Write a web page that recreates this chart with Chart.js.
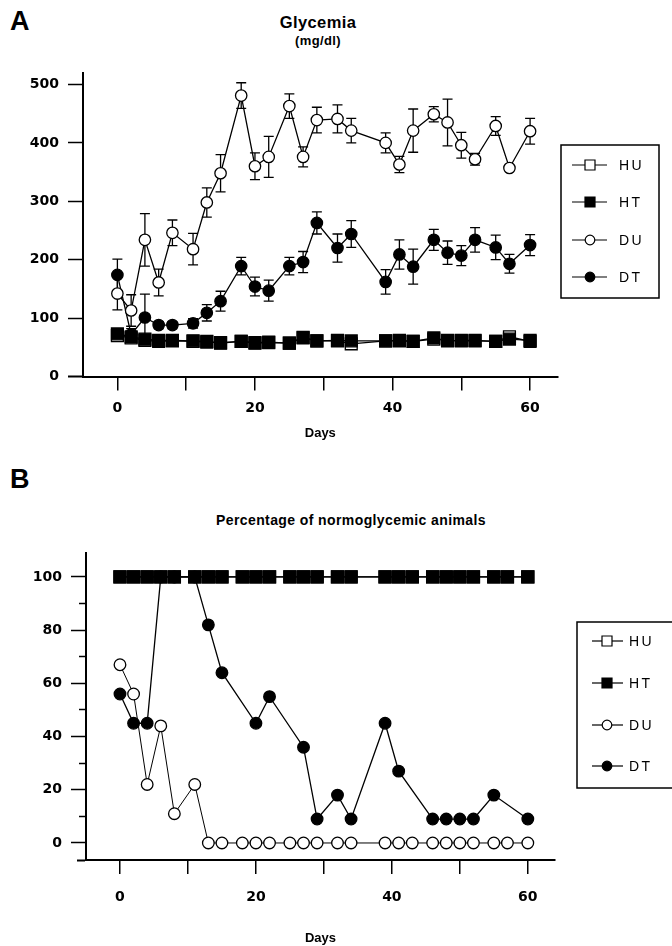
<!DOCTYPE html>
<html>
<head>
<meta charset="utf-8">
<title>Glycemia</title>
<script src="https://cdn.jsdelivr.net/npm/chart.js@4.4.0/dist/chart.umd.min.js"></script>
<style>
  body { margin: 0; background: #fff; width: 672px; height: 946px; position: relative; overflow: hidden;
         font-family: "Liberation Sans", Arial, sans-serif; }
  .lbl { position: absolute; font-weight: bold; color: #000; white-space: nowrap; }
  .ctr { text-align: center; letter-spacing: 0.4px; }
  canvas { position: absolute; left: 0; }
  #chartA { top: 0; }
  #chartB { top: 460px; }
</style>
</head>
<body>
<div class="lbl" style="left:10px; top:6px; font-size:27px;">A</div>
<div class="lbl ctr" style="left:218px; width:200px; top:13px; font-size:16.5px;">Glycemia</div>
<div class="lbl ctr" style="left:218px; width:200px; top:33px; font-size:13px;">(mg/dl)</div>
<div class="lbl" style="left:10px; top:464px; font-size:27px;">B</div>
<div class="lbl ctr" style="left:151px; width:400px; top:512px; font-size:14px;">Percentage of normoglycemic animals</div>

<canvas id="chartA" width="672" height="460"></canvas>
<canvas id="chartB" width="672" height="486"></canvas>

<script>
// sampling days (same for both panels)
const days = [0, 2, 4, 6, 8, 11, 13, 15, 18, 20, 22, 25, 27, 29, 32, 34, 39, 41, 43, 46, 48, 50, 52, 55, 57, 60];

// A: glycemia (mg/dl), mean and SEM
const huGly = [70, 66, 62, 60, 61, 60, 59, 58, 60, 58, 59, 57, 67, 61, 61, 56, 61, 61, 60, 64, 62, 61, 61, 60, 68, 60];
const htGly = [73, 68, 64, 62, 62, 61, 60, 57, 60, 57, 58, 57, 66, 61, 62, 61, 61, 62, 60, 66, 61, 62, 62, 60, 64, 62];
const duGly = [142, 113, 234, 161, 246, 218, 298, 348, 481, 360, 376, 463, 376, 439, 441, 421, 400, 363, 421, 449, 435, 396, 372, 429, 357, 420];
const duGlyErr = [28, 27, 45, 23, 22, 27, 25, 32, 22, 23, 35, 21, 17, 22, 24, 21, 17, 14, 37, 13, 40, 22, 10, 16, 5, 22];
const dtGly = [174, 72, 101, 88, 88, 91, 109, 129, 189, 154, 147, 189, 196, 263, 220, 244, 162, 209, 188, 234, 212, 207, 234, 221, 193, 225];
const dtGlyErr = [27, 10, 40, 6, 6, 8, 14, 17, 15, 16, 18, 15, 18, 19, 24, 23, 21, 25, 30, 18, 20, 17, 21, 21, 16, 18];

// B: percentage of normoglycemic animals (null = no point)
const huPct = [100, 100, 100, 100, 100, 100, 100, 100, 100, 100, 100, 100, 100, 100, 100, 100, 100, 100, 100, 100, 100, 100, 100, 100, 100, 100];
const htPct = [100, 100, 100, 100, 100, 100, 100, 100, 100, 100, 100, 100, 100, 100, 100, 100, 100, 100, 100, 100, 100, 100, 100, 100, 100, 100];
const duPct = [67, 56, 22, 44, 11, 22, 0, 0, 0, 0, 0, 0, 0, 0, 0, 0, 0, 0, 0, 0, 0, 0, 0, 0, 0, 0];
const dtPct = [56, 45, 45, 100, 100, 100, 82, 64, null, 45, 55, null, 36, 9, 18, 9, 45, 27, null, 9, 9, 9, 9, 18, null, 9];

// ticks
const xTicks = [0, 10, 20, 30, 40, 50, 60];
const xLabels = [0, 20, 40, 60];
const yTicksA = [0, 100, 200, 300, 400, 500];
const yTicksB = [0, 10, 20, 30, 40, 50, 60, 70, 80, 90, 100];
const yLabelsB = [0, 20, 40, 60, 80, 100];

const seriesNames = ['HU', 'HT', 'DU', 'DT'];

const tickFont = { family: 'DejaVu Sans', weight: 'bold', size: 14 };
const titleFont = { family: 'Liberation Sans', weight: 'bold', size: 13 };

function pts(vals) {
    return days.map((d, i) => ({ x: d, y: vals[i] }));
}

// vertical error bars with caps, drawn under the markers
const errorBars = {
    id: 'errorBars',
    beforeDatasetsDraw(chart) {
        const { ctx, scales: { x, y } } = chart;
        ctx.save();
        ctx.strokeStyle = '#000';
        ctx.lineWidth = 1.3;
        chart.data.datasets.forEach(ds => {
            if (!ds.errors) return;
            ds.data.forEach((p, i) => {
                const e = ds.errors[i];
                if (p.y == null || !e) return;
                const px = x.getPixelForValue(p.x);
                const top = y.getPixelForValue(p.y + e);
                const bot = y.getPixelForValue(p.y - e);
                ctx.beginPath();
                ctx.moveTo(px, top); ctx.lineTo(px, bot);
                ctx.moveTo(px - 5, top); ctx.lineTo(px + 5, top);
                ctx.moveTo(px - 5, bot); ctx.lineTo(px + 5, bot);
                ctx.stroke();
            });
        });
        ctx.restore();
    }
};

// framed legend at the right side
const boxLegend = {
    id: 'boxLegend',
    afterDraw(chart, args, o) {
        const ctx = chart.ctx;
        ctx.save();
        ctx.strokeStyle = '#000';
        ctx.lineWidth = 1.5;
        ctx.strokeRect(o.x, o.y, o.w, o.h);
        ctx.font = '14px "Liberation Sans"';
        ctx.textBaseline = 'middle';
        ctx.fillStyle = '#000';
        if ('letterSpacing' in ctx) ctx.letterSpacing = '2.5px';
        seriesNames.forEach((name, i) => {
            const ds = chart.data.datasets.find(d => d.label === name);
            const y = o.rows[i];
            ctx.lineWidth = 1.2;
            ctx.beginPath();
            ctx.moveTo(o.line0, y); ctx.lineTo(o.line1, y);
            ctx.stroke();
            ctx.beginPath();
            if (ds.pointStyle === 'rect') {
                ctx.rect(o.mx - 5, y - 5, 10, 10);
            } else {
                ctx.arc(o.mx, y, 4.8, 0, Math.PI * 2);
            }
            ctx.fillStyle = ds.pointBackgroundColor;
            ctx.fill();
            ctx.stroke();
            ctx.fillStyle = '#000';
            ctx.fillText(name, o.tx, y + 1);
        });
        ctx.restore();
    }
};

function makeDatasets(hu, ht, du, dt, errs, r) {
    const base = { borderColor: '#000', pointBorderColor: '#000', pointBorderWidth: 1.3, borderWidth: 1.3, spanGaps: true };
    return [
        Object.assign({}, base, { label: 'HU', data: pts(hu), pointStyle: 'rect', pointRadius: r.sq, pointBackgroundColor: '#fff', order: 3 }),
        Object.assign({}, base, { label: 'HT', data: pts(ht), pointStyle: 'rect', pointRadius: r.sq, pointBackgroundColor: '#000', order: 0 }),
        Object.assign({}, base, { label: 'DU', data: pts(du), pointStyle: 'circle', pointRadius: r.ci, pointBackgroundColor: '#fff', order: 1,
            borderWidth: r.duLine, errors: errs ? errs[0] : null }),
        Object.assign({}, base, { label: 'DT', data: pts(dt), pointStyle: 'circle', pointRadius: r.ci, pointBackgroundColor: '#000', order: 2,
            errors: errs ? errs[1] : null })
    ];
}

function xScale(height, labelPad, titlePad) {
    return {
        type: 'linear', min: -5, max: 64,
        afterBuildTicks: s => { s.ticks = xTicks.map(v => ({ value: v })); },
        afterFit: s => { s.height = height; },
        grid: { display: true, drawOnChartArea: false, drawTicks: true, tickLength: 14, color: '#000', lineWidth: 1.5 },
        border: { display: true, color: '#000', width: 2 },
        ticks: { color: '#000', font: tickFont, padding: labelPad, maxRotation: 0, autoSkip: false,
            callback: v => xLabels.includes(v) ? String(v) : '' },
        title: { display: true, text: 'Days', color: '#000', font: titleFont, padding: { top: 0, bottom: titlePad } }
    };
}

// Panel A
new Chart(document.getElementById('chartA'), {
    type: 'line',
    data: { datasets: makeDatasets(huGly, htGly, duGly, dtGly, [duGlyErr, dtGlyErr], { sq: 8.4, ci: 5.7, duLine: 1.3 }) },
    options: {
        responsive: false, animation: false, events: [],
        layout: { padding: { left: 0, right: 114.4, top: 72.8, bottom: 0 } },
        plugins: {
            legend: { display: false }, tooltip: { enabled: false },
            boxLegend: { x: 561, y: 145, w: 98, h: 153, rows: [165, 202, 240, 277], line0: 572, line1: 607, mx: 590, tx: 619 }
        },
        scales: {
            x: xScale(83.5, 9, 19),
            y: {
                min: 0, max: 520,
                afterBuildTicks: s => { s.ticks = yTicksA.map(v => ({ value: v })); },
                afterFit: s => { s.width = 83; },
                grid: { display: true, drawOnChartArea: false, drawTicks: true, tickLength: 15, color: '#000',
                    tickWidth: c => (c.tick && c.tick.value === 0) ? 2 : 1.5 },
                border: { display: true, color: '#000', width: 2 },
                ticks: { color: '#000', font: tickFont, padding: 9, callback: v => String(v) }
            }
        }
    },
    plugins: [errorBars, boxLegend]
});

// Panel B
new Chart(document.getElementById('chartB'), {
    type: 'line',
    data: { datasets: makeDatasets(huPct, htPct, duPct, dtPct, null, { sq: 8.5, ci: 5.8, duLine: 1 }) },
    options: {
        responsive: false, animation: false, events: [],
        layout: { padding: { left: 0, right: 117, top: 93, bottom: 0 } },
        plugins: {
            legend: { display: false }, tooltip: { enabled: false },
            boxLegend: { x: 577, y: 162, w: 120, h: 166, rows: [181, 223, 265, 306], line0: 592, line1: 623, mx: 607, tx: 629 }
        },
        scales: {
            x: xScale(86, 15, 0),
            y: {
                min: -6.4, max: 109,
                afterBuildTicks: s => { s.ticks = [{ value: s.min }].concat(yTicksB.map(v => ({ value: v }))); },
                afterFit: s => { s.width = 86; },
                grid: { display: true, drawOnChartArea: false, drawTicks: true, tickLength: 15, color: '#000',
                    tickWidth: c => (c.tick && c.tick.value < 0) ? 2 : 1.5,
                    tickBorderDash: c => {
                        const v = c.tick ? c.tick.value : 0;
                        if (v < 0) return [9, 6];
                        return yLabelsB.includes(v) ? [] : [7, 8];
                    },
                    tickBorderDashOffset: c => {
                        const v = c.tick ? c.tick.value : 0;
                        if (v < 0) return 9;
                        return yLabelsB.includes(v) ? 0 : 7;
                    } },
                border: { display: true, color: '#000', width: 2 },
                ticks: { color: '#000', font: tickFont, padding: 9, autoSkip: false,
                    callback: v => yLabelsB.includes(v) ? String(v) : '' }
            }
        }
    },
    plugins: [boxLegend]
});
</script>
</body>
</html>
